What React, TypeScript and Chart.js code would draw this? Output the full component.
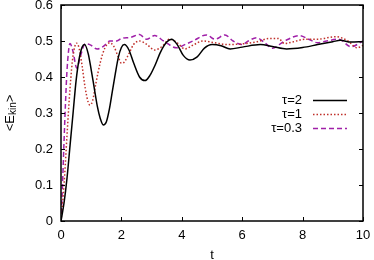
import React, { useEffect, useRef } from "react";
import { Chart, registerables } from "chart.js";

Chart.register(...registerables);

// ---- data ----
const xTickValues = [0, 2, 4, 6, 8, 10];
const yTickValues = [0, 0.1, 0.2, 0.3, 0.4, 0.5, 0.6];
const seriesLabels = ["τ=2", "τ=1", "τ=0.3"];
const seriesColors = ["#000000", "#c0302a", "#a020a8"];

const tau2T = [0, 0.1, 0.2, 0.3, 0.4, 0.5, 0.6, 0.7, 0.78, 0.9, 1.0, 1.1, 1.2, 1.3, 1.4, 1.5, 1.6, 1.7, 1.8, 1.9, 2.0, 2.1, 2.25, 2.4, 2.6, 2.78, 2.95, 3.1, 3.3, 3.5, 3.66, 3.85, 4.05, 4.27, 4.5, 4.75, 5.0, 5.3, 5.6, 6.0, 6.6, 7.0, 7.47, 8.0, 8.5, 9.0, 9.25, 9.6, 10];
const tau2V = [0, 0.05, 0.12, 0.21, 0.3, 0.39, 0.45, 0.483, 0.49, 0.465, 0.42, 0.37, 0.32, 0.285, 0.267, 0.275, 0.31, 0.36, 0.41, 0.455, 0.482, 0.49, 0.475, 0.44, 0.4, 0.39, 0.405, 0.43, 0.47, 0.497, 0.505, 0.49, 0.46, 0.447, 0.455, 0.48, 0.49, 0.487, 0.478, 0.483, 0.49, 0.485, 0.478, 0.482, 0.49, 0.498, 0.502, 0.497, 0.498];

const tau1T = [0, 0.1, 0.2, 0.3, 0.4, 0.52, 0.6, 0.7, 0.8, 0.9, 0.96, 1.05, 1.15, 1.3, 1.45, 1.62, 1.75, 1.9, 2.0, 2.1, 2.25, 2.4, 2.6, 2.85, 3.1, 3.35, 3.6, 3.85, 4.1, 4.4, 4.7, 5.1, 5.5, 6.0, 6.5, 6.9, 7.2, 7.4, 7.7, 8.1, 8.5, 9.1, 9.5, 9.8, 10];
const tau1V = [0, 0.1, 0.24, 0.37, 0.46, 0.494, 0.48, 0.43, 0.37, 0.33, 0.322, 0.335, 0.38, 0.44, 0.48, 0.495, 0.485, 0.455, 0.438, 0.442, 0.465, 0.49, 0.5, 0.49, 0.475, 0.485, 0.505, 0.495, 0.478, 0.49, 0.5, 0.495, 0.49, 0.492, 0.498, 0.507, 0.507, 0.493, 0.498, 0.505, 0.505, 0.512, 0.5, 0.481, 0.488];

const tau03T = [0, 0.05, 0.1, 0.15, 0.2, 0.3, 0.4, 0.52, 0.65, 0.8, 0.95, 1.2, 1.4, 1.62, 1.85, 2.0, 2.3, 2.6, 2.83, 3.1, 3.4, 3.83, 4.1, 4.37, 4.82, 5.1, 5.43, 5.7, 6.0, 6.2, 6.48, 6.75, 7.0, 7.4, 7.9, 8.2, 8.5, 8.8, 9.2, 9.6, 10];
const tau03V = [0, 0.1, 0.22, 0.33, 0.42, 0.493, 0.47, 0.425, 0.46, 0.492, 0.49, 0.478, 0.485, 0.5, 0.5, 0.507, 0.51, 0.518, 0.505, 0.515, 0.5, 0.481, 0.49, 0.5, 0.517, 0.505, 0.517, 0.5, 0.49, 0.5, 0.509, 0.495, 0.48, 0.5, 0.515, 0.505, 0.495, 0.5, 0.505, 0.484, 0.5];

const FONT = "'Liberation Sans', Arial, Helvetica, sans-serif";

const toPoints = (t: number[], v: number[]) => t.map((x, i) => ({ x, y: v[i] }));

const framePlugin = {
  id: "frameTicks",
  afterDraw(chart: any) {
    const { ctx, chartArea: a, scales } = chart;
    const xs = scales.x;
    const ys = scales.y;
    ctx.save();
    ctx.strokeStyle = "#000";
    ctx.lineWidth = 1.5;
    ctx.strokeRect(a.left, a.top, a.right - a.left, a.bottom - a.top);
    ctx.lineWidth = 1;
    const tl = 4;
    ctx.beginPath();
    xTickValues.forEach((v) => {
      const p = Math.round(xs.getPixelForValue(v)) + 0.5;
      ctx.moveTo(p, a.bottom);
      ctx.lineTo(p, a.bottom - tl);
      ctx.moveTo(p, a.top);
      ctx.lineTo(p, a.top + tl);
    });
    yTickValues.forEach((v) => {
      const p = Math.round(ys.getPixelForValue(v)) + 0.5;
      ctx.moveTo(a.left, p);
      ctx.lineTo(a.left + tl, p);
      ctx.moveTo(a.right, p);
      ctx.lineTo(a.right - tl, p);
    });
    ctx.stroke();

    // legend
    ctx.font = `13px ${FONT}`;
    ctx.textAlign = "right";
    ctx.textBaseline = "middle";
    chart.data.datasets.forEach((ds: any, i: number) => {
      const y = 100 + i * 14;
      ctx.fillStyle = "#000";
      ctx.fillText(ds.label, 302, y);
      ctx.strokeStyle = ds.borderColor;
      ctx.lineWidth = ds.borderWidth;
      ctx.setLineDash(ds.borderDash || []);
      ctx.beginPath();
      ctx.moveTo(313, y + 0.5);
      ctx.lineTo(347, y + 0.5);
      ctx.stroke();
    });
    ctx.setLineDash([]);

    // y title with subscript
    ctx.translate(10, (a.top + a.bottom) / 2);
    ctx.rotate(-Math.PI / 2);
    ctx.fillStyle = "#000";
    ctx.textBaseline = "middle";
    ctx.textAlign = "left";
    const big = `13px ${FONT}`;
    const small = `10px ${FONT}`;
    ctx.font = big;
    const w1 = ctx.measureText("<E").width;
    const w3 = ctx.measureText(">").width;
    ctx.font = small;
    const w2 = ctx.measureText("kin").width;
    const total = w1 + w2 + w3;
    let x0 = -total / 2;
    ctx.font = big;
    ctx.fillText("<E", x0, 0);
    x0 += w1;
    ctx.font = small;
    ctx.fillText("kin", x0, 3);
    x0 += w2;
    ctx.font = big;
    ctx.fillText(">", x0, 0);
    ctx.restore();
  },
};

export default function App() {
  const ref = useRef<HTMLCanvasElement | null>(null);
  useEffect(() => {
    if (!ref.current) return;
    const chart = new Chart(ref.current, {
      type: "line",
      data: {
        datasets: [
          {
            label: seriesLabels[0],
            data: toPoints(tau2T, tau2V),
            borderColor: seriesColors[0],
            borderWidth: 1.5,
            pointRadius: 0,
            cubicInterpolationMode: "monotone",
            fill: false,
          },
          {
            label: seriesLabels[1],
            data: toPoints(tau1T, tau1V),
            borderColor: seriesColors[1],
            borderWidth: 1.5,
            borderDash: [1.5, 2],
            pointRadius: 0,
            cubicInterpolationMode: "monotone",
            fill: false,
          },
          {
            label: seriesLabels[2],
            data: toPoints(tau03T, tau03V),
            borderColor: seriesColors[2],
            borderWidth: 1.5,
            borderDash: [5, 3],
            pointRadius: 0,
            cubicInterpolationMode: "monotone",
            fill: false,
          },
        ],
      },
      options: {
        animation: false,
        responsive: true,
        maintainAspectRatio: false,
        layout: { padding: { top: 5, right: 11, left: 0, bottom: 0 } },
        plugins: { legend: { display: false }, tooltip: { enabled: false } },
        scales: {
          x: {
            type: "linear",
            min: 0,
            max: 10,
            grid: { display: false, drawTicks: false },
            border: { display: false },
            afterBuildTicks: (s: any) => {
              s.ticks = xTickValues.map((v) => ({ value: v }));
            },
            afterFit: (s: any) => {
              s.height = 39;
              s.paddingLeft = 0;
              s.paddingRight = 0;
            },
            ticks: {
              color: "#000",
              font: { family: FONT, size: 13 },
              padding: 7,
              maxRotation: 0,
              callback: (v: any) => String(v),
            },
            title: {
              display: true,
              text: "t",
              color: "#000",
              font: { family: FONT, size: 13, lineHeight: 1 },
              padding: { top: 0, bottom: -2 },
            },
          },
          y: {
            type: "linear",
            min: 0,
            max: 0.6,
            grid: { display: false, drawTicks: false },
            border: { display: false },
            afterBuildTicks: (s: any) => {
              s.ticks = yTickValues.map((v) => ({ value: v }));
            },
            afterFit: (s: any) => {
              s.width = 61;
              s.paddingTop = 0;
              s.paddingBottom = 0;
            },
            ticks: {
              color: "#000",
              font: { family: FONT, size: 13 },
              padding: 8,
              callback: (v: any) => (v === 0 ? "0" : Number(v).toFixed(1)),
            },
          },
        },
      },
      plugins: [framePlugin],
    } as any);
    return () => chart.destroy();
  }, []);
  return (
    <div style={{ position: "fixed", left: 0, top: 0, width: 374, height: 260 }}>
      <canvas ref={ref} />
    </div>
  );
}
